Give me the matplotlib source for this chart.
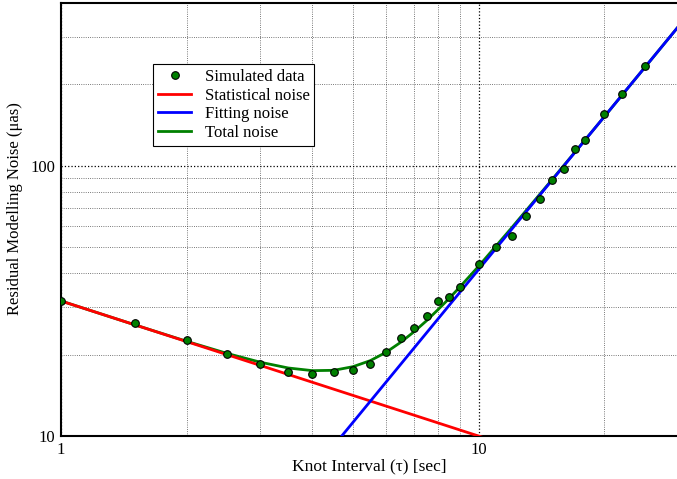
import matplotlib
matplotlib.use("Agg")
import matplotlib.pyplot as plt
from matplotlib.ticker import FixedLocator, NullFormatter

# simulated points (knot interval in sec, noise in micro-arcsec)
tau = [1, 1.5, 2, 2.5, 3, 3.5, 4, 4.5, 5, 5.5, 6, 6.5, 7, 7.5, 8, 8.5, 9,
       10, 11, 12, 13, 14, 15, 16, 17, 18, 20, 22, 25]
noise = [31.5, 26.2, 22.7, 20.1, 18.5, 17.3, 17.0, 17.2, 17.6, 18.5, 20.4,
         23.1, 25.2, 27.8, 31.7, 32.7, 35.6, 43.4, 50.0, 55.0, 65.2, 75.3,
         88.3, 97.3, 115, 125, 155, 185, 233]

# straight lines on log-log axes, given by end points
stat_x = [1, 30]
stat_y = [31.6, 5.77]
fit_x = [4.7, 30]
fit_y = [10, 326]

# total noise curve
tot_x = [1, 1.5, 2, 2.5, 3, 3.5, 4, 4.5, 5, 5.5, 6, 6.5, 7, 7.5, 8, 8.5, 9,
         10, 12, 15, 20, 30]
tot_y = [31.6, 25.8, 22.4, 20.2, 18.75, 17.85, 17.45, 17.5, 18.05, 19.0,
         20.4, 22.2, 24.3, 26.7, 29.4, 32.3, 35.5, 42.5, 59.0, 89.0, 152, 326]

plt.rcParams['font.family'] = ['Liberation Serif', 'DejaVu Serif']

fig = plt.figure(figsize=(6.77, 4.79), dpi=100)
ax = fig.add_axes([61 / 677, 43 / 479, 617 / 677, 433 / 479])

ax.plot(tau, noise, 'o', color='green', mec='black', mew=0.8, ms=5.5,
        label='Simulated data', zorder=5)
ax.plot(stat_x, stat_y, color='red', lw=2, label='Statistical noise', zorder=3)
ax.plot(fit_x, fit_y, color='blue', lw=2, label='Fitting noise', zorder=4)
ax.plot(tot_x, tot_y, color='green', lw=2, label='Total noise', zorder=2)

ax.set_xscale('log')
ax.set_yscale('log')
ax.set_xlim(1, 30)
ax.set_ylim(10, 400)

ax.xaxis.set_major_locator(FixedLocator([1, 10]))
ax.xaxis.set_minor_locator(FixedLocator([2, 3, 4, 5, 6, 7, 8, 9, 20, 30]))
ax.yaxis.set_major_locator(FixedLocator([10, 100]))
ax.yaxis.set_minor_locator(FixedLocator([20, 30, 40, 50, 60, 70, 80, 90, 200, 300]))
ax.set_xticklabels(['1', '10'])
ax.set_yticklabels(['10', '100'])
ax.xaxis.set_minor_formatter(NullFormatter())
ax.yaxis.set_minor_formatter(NullFormatter())
ax.tick_params(which='both', direction='in', length=0, labelsize=12, pad=4)

ax.grid(which='major', ls=':', color='black', lw=0.9)
ax.grid(which='minor', ls=':', color='black', lw=0.6, alpha=0.7)

for s in ax.spines.values():
    s.set_linewidth(1.5)

ax.set_xlabel('Knot Interval (τ) [sec]', fontsize=12.5)
ax.set_ylabel('Residual Modelling Noise (μas)', fontsize=12)
ax.xaxis.set_label_coords(0.5, -30 / 433)
ax.xaxis.label.set_va('center')
ax.yaxis.set_label_coords(-46 / 617, 227 / 433)
ax.yaxis.label.set_va('center')

leg = ax.legend(loc='upper left', bbox_to_anchor=(0.149, 0.859), numpoints=1,
                fontsize=12, fancybox=False, framealpha=1, edgecolor='black',
                borderpad=0.3, labelspacing=0.15, handlelength=2.0,
                handletextpad=0.8, borderaxespad=0)
leg.get_frame().set_linewidth(0.8)

fig.savefig('out.png', dpi=100)
